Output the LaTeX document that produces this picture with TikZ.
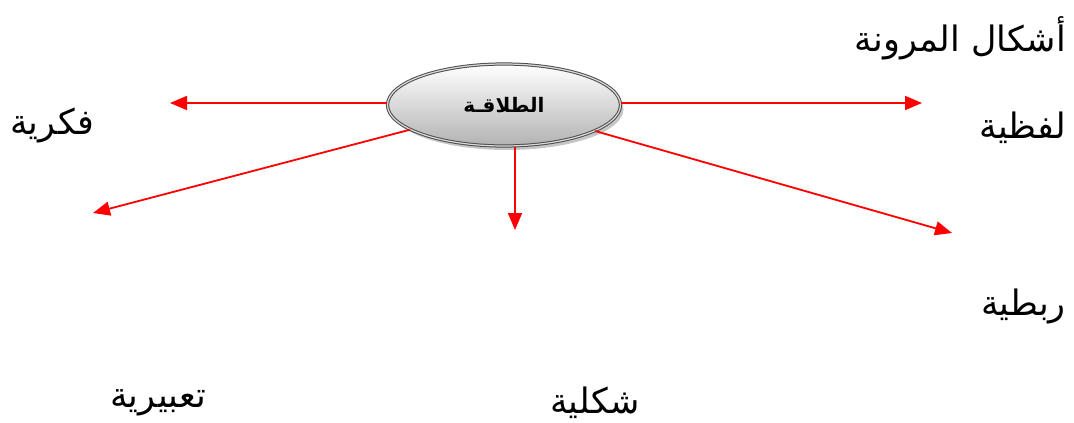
\documentclass[tikz,border=0pt]{standalone}
\usepackage{fontspec}
\usetikzlibrary{arrows.meta,shapes.geometric,shadows}
\newfontfamily\arabicfont[Script=Arabic]{DejaVu Sans}
\TeXXeTstate=1
\tikzset{
  lbl/.style={font=\arabicfont\fontsize{35}{42}\selectfont, inner sep=0pt},
  conn/.style={draw=red, line width=1.8pt, -{Triangle[length=17pt,width=14pt]}},
  hub/.style={ellipse, minimum width=233pt, minimum height=82pt, draw=gray!60!black, line width=1pt,
    double=gray!30, double distance=1.2pt, top color=white, bottom color=gray!60,
    drop shadow={opacity=0.45, shadow xshift=3pt, shadow yshift=-4pt},
    font=\arabicfont\bfseries\fontsize{20}{24}\selectfont}
}
\begin{document}
\begin{tikzpicture}[x=1pt,y=-1pt]
\useasboundingbox (0,0) rectangle (1074,423);
\node[hub] (c) at (504,105) {\beginR الطلاقـة\endR};
\node[lbl, anchor=east] (title) at (1066,38) {\beginR أشكال المرونة\endR};
\node[lbl, anchor=east] (lafz) at (1066,128) {\beginR لفظية\endR};
\node[lbl, anchor=west] (fikr) at (10,125) {\beginR فكرية\endR};
\node[lbl, anchor=east] (rabt) at (1066,306) {\beginR ربطية\endR};
\node[lbl] (taab) at (158,403) {\beginR تعبيرية\endR};
\node[lbl] (shak) at (595,403) {\beginR شكلية\endR};
\coordinate (t1) at (170,103);
\coordinate (t2) at (922,103);
\coordinate (t3) at (93,213);
\coordinate (t4) at (515,230);
\coordinate (t5) at (952,233);
\draw[conn] (c.west |- t1) -- (t1);
\draw[conn] (c.east |- t2) -- (t2);
\draw[conn] (c) -- (t3);
\draw[conn] (c.south -| t4) -- (t4);
\draw[conn] (c) -- (t5);
\end{tikzpicture}
\end{document}
